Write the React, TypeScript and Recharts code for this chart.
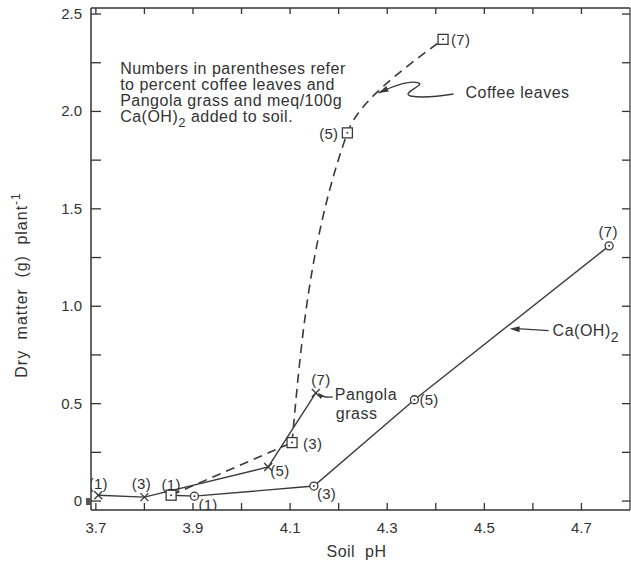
import React from 'react';
import { ComposedChart, Line, XAxis, YAxis, ReferenceDot, Label } from 'recharts';

// ---------- data ----------
// Coffee leaves (% added)
const coffeeRates = ['(1)', '(3)', '(5)', '(7)'];
const coffeePH = [3.855, 4.104, 4.218, 4.415];
const coffeeDM = [0.03, 0.3, 1.89, 2.37];

// Pangola grass (% added)
const pangolaRates = ['(1)', '(3)', '(5)', '(7)'];
const pangolaPH = [3.705, 3.8, 4.055, 4.153];
const pangolaDM = [0.03, 0.02, 0.175, 0.555];

// Ca(OH)2 (meq/100 g added); first point is the line's start, unlabelled
const limeRates = ['', '(1)', '(3)', '(5)', '(7)'];
const limePH = [3.855, 3.903, 4.149, 4.356, 4.757];
const limeDM = [0.03, 0.025, 0.077, 0.52, 1.31];

const xTicks = [3.7, 3.8, 3.9, 4.0, 4.1, 4.2, 4.3, 4.4, 4.5, 4.6, 4.7];
const xTickLabels = ['3.7', '', '3.9', '', '4.1', '', '4.3', '', '4.5', '', '4.7'];
const yTicks = [0, 0.25, 0.5, 0.75, 1, 1.25, 1.5, 1.75, 2, 2.25, 2.5];
const yTickLabels = ['0', '', '0.5', '', '1.0', '', '1.5', '', '2.0', '', '2.5'];

const noteLines = [
  'Numbers in parentheses refer',
  'to percent coffee leaves and',
  'Pangola grass and meq/100g',
];

// ---------- tables ----------
const mk = (xs: number[], ys: number[], ls: string[]) =>
  xs.map((x, i) => ({ x, y: ys[i], label: ls[i] }));
const coffeeData = mk(coffeePH, coffeeDM, coffeeRates);
const coffeeLow = coffeeData.slice(0, 2);
const coffeeHigh = coffeeData.slice(1);
const pangolaData = mk(pangolaPH, pangolaDM, pangolaRates);
const limeData = mk(limePH, limeDM, limeRates);

// ---------- styles ----------
const INK = '#333333';
const LINE = '#3a3a3a';
const FONT = "'Liberation Sans', Arial, sans-serif";
const TXT = { fontFamily: FONT, fontSize: 16, fill: INK, letterSpacing: 0.5 } as const;

type Off = { dx: number; dy: number; a: 'start' | 'middle' | 'end' };
const coffeeOff: Off[] = [
  { dx: 0, dy: -11, a: 'middle' },
  { dx: 11, dy: 1, a: 'start' },
  { dx: -9, dy: 1, a: 'end' },
  { dx: 8, dy: 0, a: 'start' },
];
const pangolaOff: Off[] = [
  { dx: 0, dy: -12, a: 'middle' },
  { dx: -3, dy: -14, a: 'middle' },
  { dx: 2, dy: 4, a: 'start' },
  { dx: 5, dy: -13, a: 'middle' },
];
const limeOff: Off[] = [
  { dx: 0, dy: 0, a: 'start' },
  { dx: 4, dy: 8, a: 'start' },
  { dx: 3, dy: 7, a: 'start' },
  { dx: 5, dy: 0, a: 'start' },
  { dx: -1, dy: -14, a: 'middle' },
];

const PtLabel = ({ cx, cy, text, off }: { cx: number; cy: number; text: string; off: Off }) =>
  text ? (
    <text
      x={cx + off.dx}
      y={cy + off.dy}
      textAnchor={off.a}
      dominantBaseline="central"
      style={{ ...TXT, fontSize: 15, letterSpacing: 0.3 }}
    >
      {text}
    </text>
  ) : null;

const squareDot = (skipFirst: boolean, idxShift: number) => (p: any) => {
  const { cx, cy, index } = p;
  if (cx == null || cy == null || (skipFirst && index === 0)) return <g key={`sq-${idxShift}-${index}`} />;
  return (
    <g key={`sq-${idxShift}-${index}`}>
      <rect x={cx - 5} y={cy - 5} width={10} height={10} fill="#fff" stroke={LINE} strokeWidth={1.3} />
      <circle cx={cx} cy={cy} r={1} fill={LINE} />
      <PtLabel cx={cx} cy={cy} text={p.payload.label} off={coffeeOff[index + idxShift]} />
    </g>
  );
};

const crossDot = (p: any) => {
  const { cx, cy, index } = p;
  if (cx == null || cy == null) return <g key={`x-${index}`} />;
  return (
    <g key={`x-${index}`}>
      <line x1={cx - 4} y1={cy - 4} x2={cx + 4} y2={cy + 4} stroke={LINE} strokeWidth={1.3} />
      <line x1={cx - 4} y1={cy + 4} x2={cx + 4} y2={cy - 4} stroke={LINE} strokeWidth={1.3} />
      <PtLabel cx={cx} cy={cy} text={p.payload.label} off={pangolaOff[index]} />
    </g>
  );
};

const circleDot = (p: any) => {
  const { cx, cy, index } = p;
  if (cx == null || cy == null || index === 0) return <g key={`o-${index}`} />;
  return (
    <g key={`o-${index}`}>
      <circle cx={cx} cy={cy} r={4} fill="#fff" stroke={LINE} strokeWidth={1.3} />
      <circle cx={cx} cy={cy} r={1} fill={LINE} />
      <PtLabel cx={cx} cy={cy} text={p.payload.label} off={limeOff[index]} />
    </g>
  );
};

const findLabel = (v: number, ticks: number[], labels: string[]) => {
  const i = ticks.findIndex((t) => Math.abs(t - v) < 1e-6);
  return i >= 0 ? labels[i] : '';
};

const BottomTick = (p: any) => {
  const { x, y, payload } = p;
  const lab = findLabel(payload.value, xTicks, xTickLabels);
  return (
    <g>
      <line x1={x} y1={y} x2={x} y2={y - 7} stroke={INK} strokeWidth={1.3} />
      {lab ? (
        <text x={x} y={y + 23} textAnchor="middle" style={{ ...TXT, fontSize: 15, letterSpacing: 0 }}>
          {lab}
        </text>
      ) : null}
    </g>
  );
};
const TopTick = (p: any) => (
  <line x1={p.x} y1={p.y} x2={p.x} y2={p.y + 6} stroke={INK} strokeWidth={1.3} />
);
const LeftTick = (p: any) => {
  const { x, y, payload } = p;
  const lab = findLabel(payload.value, yTicks, yTickLabels);
  return (
    <g>
      <line x1={x} y1={y} x2={x + 10} y2={y} stroke={INK} strokeWidth={1.3} />
      {lab ? (
        <text x={x - 9} y={y + 5} textAnchor="end" style={{ ...TXT, fontSize: 15, letterSpacing: 0 }}>
          {lab}
        </text>
      ) : null}
    </g>
  );
};
const RightTick = (p: any) => (
  <line x1={p.x} y1={p.y} x2={p.x - 8} y2={p.y} stroke={INK} strokeWidth={1.3} />
);

const arrowHead = (tx: number, ty: number, fx: number, fy: number, len = 9, half = 3) => {
  const dx = fx - tx;
  const dy = fy - ty;
  const d = Math.hypot(dx, dy) || 1;
  const ux = dx / d;
  const uy = dy / d;
  const bx = tx + ux * len;
  const by = ty + uy * len;
  return `M${tx},${ty} L${bx - uy * half},${by + ux * half} L${bx + uy * half},${by - ux * half} Z`;
};

const NoteShape = (p: any) => {
  const { cx, cy } = p;
  return (
    <g>
      {noteLines.map((t, i) => (
        <text key={i} x={cx} y={cy + 11 + i * 16} style={TXT}>
          {t}
        </text>
      ))}
      <text x={cx} y={cy + 59} style={TXT}>
        Ca(OH)
        <tspan dy={5} style={{ fontSize: 13 }}>2</tspan>
        <tspan dy={-5}> added to soil.</tspan>
      </text>
    </g>
  );
};

const CoffeeArrow = (p: any) => {
  const { cx, cy } = p;
  const d = `M${cx + 76},${cy + 2} C${cx + 58},${cy + 5} ${cx + 43},${cy + 6} ${cx + 33},${cy + 4} C${cx + 23},${cy + 1} ${cx + 48},${cy - 7} ${cx + 41},${cy - 9} C${cx + 33},${cy - 12} ${cx + 18},${cy - 7} ${cx + 1},${cy + 1}`;
  return (
    <g>
      <path d={d} fill="none" stroke={LINE} strokeWidth={1.4} />
      <path d={arrowHead(cx + 1, cy + 1, cx + 18, cy - 7, 10, 3)} fill={LINE} />
      <text x={cx + 88} y={cy + 6} style={TXT}>
        Coffee leaves
      </text>
    </g>
  );
};

const PangolaArrow = (p: any) => {
  const { cx, cy } = p;
  return (
    <g>
      <path d={`M${cx + 17},${cy + 4} Q${cx + 7},${cy + 5} ${cx + 3},${cy + 1}`} fill="none" stroke={LINE} strokeWidth={1.3} />
      <path d={arrowHead(cx + 2, cy, cx + 7, cy + 5, 6, 2.5)} fill={LINE} />
      <text x={cx + 19} y={cy + 7} style={TXT}>
        Pangola
      </text>
      <text x={cx + 20} y={cy + 26} style={TXT}>
        grass
      </text>
    </g>
  );
};

const LimeArrow = (p: any) => {
  const { cx, cy } = p;
  return (
    <g>
      <line x1={cx + 40} y1={cy + 5} x2={cx + 8} y2={cy + 3} stroke={LINE} strokeWidth={1.3} />
      <path d={arrowHead(cx + 1, cy + 3, cx + 40, cy + 5, 10, 3)} fill={LINE} />
      <text x={cx + 44} y={cy + 10} style={TXT}>
        Ca(OH)
        <tspan dy={6} style={{ fontSize: 14 }}>2</tspan>
      </text>
    </g>
  );
};

const OriginMark = (p: any) => (
  <rect x={p.cx - 5} y={p.cy - 3} width={5} height={7} fill="#555" />
);

const YTitle = (p: any) => {
  const vb = p.viewBox || { x: 0, y: 8, width: 91, height: 502 };
  const x = vb.x + 27;
  const y = vb.y + vb.height / 2 + 26;
  return (
    <text
      x={x}
      y={y}
      transform={`rotate(-90, ${x}, ${y})`}
      textAnchor="middle"
      style={{ ...TXT, letterSpacing: 1, wordSpacing: 5 }}
    >
      Dry matter (g) plant
      <tspan dy={-7} style={{ fontSize: 12 }}>-1</tspan>
    </text>
  );
};

const XTitle = (p: any) => {
  const vb = p.viewBox || { x: 91, y: 510, width: 539, height: 50 };
  const x = vb.x + vb.width / 2 - 4;
  const y = vb.y + 47;
  return (
    <text x={x} y={y} textAnchor="middle" style={{ ...TXT, wordSpacing: 5 }}>
      Soil pH
    </text>
  );
};

export default function App() {
  return (
    <div style={{ position: 'absolute', left: 0, top: 0, width: 631, height: 569, background: '#fff' }}>
      <ComposedChart width={631} height={569} margin={{ top: 7, right: 0, bottom: 9, left: 0 }}>
        <XAxis
          type="number"
          dataKey="x"
          domain={[3.69, 4.8]}
          allowDataOverflow
          ticks={xTicks}
          interval={0}
          tick={BottomTick}
          tickLine={false}
          tickSize={0}
          tickMargin={0}
          height={50}
          axisLine={{ stroke: INK, strokeWidth: 1.5 }}
        >
          <Label content={XTitle} />
        </XAxis>
        <XAxis
          xAxisId="top"
          orientation="top"
          type="number"
          dataKey="x"
          domain={[3.69, 4.8]}
          allowDataOverflow
          ticks={xTicks}
          interval={0}
          tick={TopTick}
          tickLine={false}
          tickSize={0}
          tickMargin={0}
          height={1}
          axisLine={{ stroke: INK, strokeWidth: 1.5 }}
        />
        <YAxis
          type="number"
          domain={[-0.046, 2.531]}
          allowDataOverflow
          ticks={yTicks}
          interval={0}
          tick={LeftTick}
          tickLine={false}
          tickSize={0}
          tickMargin={0}
          width={91}
          axisLine={{ stroke: INK, strokeWidth: 1.5 }}
        >
          <Label content={YTitle} />
        </YAxis>
        <YAxis
          yAxisId="right"
          orientation="right"
          type="number"
          domain={[-0.046, 2.531]}
          allowDataOverflow
          ticks={yTicks}
          interval={0}
          tick={RightTick}
          tickLine={false}
          tickSize={0}
          tickMargin={0}
          width={1}
          axisLine={{ stroke: INK, strokeWidth: 1.2 }}
        />

        {/* invisible series so the frame axes (top / right) are bound to data */}
        <Line
          xAxisId="top"
          yAxisId="right"
          data={coffeeData}
          dataKey="y"
          stroke="none"
          dot={false}
          activeDot={false}
          legendType="none"
          isAnimationActive={false}
        />

        <Line
          data={limeData}
          dataKey="y"
          type="linear"
          stroke={LINE}
          strokeWidth={1.4}
          dot={circleDot}
          activeDot={false}
          isAnimationActive={false}
        />
        <Line
          data={pangolaData}
          dataKey="y"
          type="linear"
          stroke={LINE}
          strokeWidth={1.4}
          dot={crossDot}
          activeDot={false}
          isAnimationActive={false}
        />
        <Line
          data={coffeeLow}
          dataKey="y"
          type="linear"
          stroke={LINE}
          strokeWidth={1.6}
          strokeDasharray="9 6"
          dot={false}
          activeDot={false}
          isAnimationActive={false}
        />
        <Line
          data={coffeeHigh}
          dataKey="y"
          type="monotoneY"
          stroke={LINE}
          strokeWidth={1.6}
          strokeDasharray="9 6"
          dot={false}
          activeDot={false}
          isAnimationActive={false}
        />
        <Line
          data={coffeeLow}
          dataKey="y"
          type="linear"
          stroke="none"
          dot={squareDot(false, 0)}
          activeDot={false}
          isAnimationActive={false}
        />
        <Line
          data={coffeeHigh}
          dataKey="y"
          type="linear"
          stroke="none"
          dot={squareDot(true, 1)}
          activeDot={false}
          isAnimationActive={false}
        />

        <ReferenceDot x={3.69} y={0} r={0} ifOverflow="visible" shape={OriginMark} />
        <ReferenceDot x={3.75} y={2.25} r={0} ifOverflow="visible" shape={NoteShape} />
        <ReferenceDot x={4.28} y={2.1} r={0} ifOverflow="visible" shape={CoffeeArrow} />
        <ReferenceDot x={pangolaPH[3]} y={pangolaDM[3]} r={0} ifOverflow="visible" shape={PangolaArrow} />
        <ReferenceDot x={4.55} y={0.9} r={0} ifOverflow="visible" shape={LimeArrow} />
      </ComposedChart>
    </div>
  );
}
